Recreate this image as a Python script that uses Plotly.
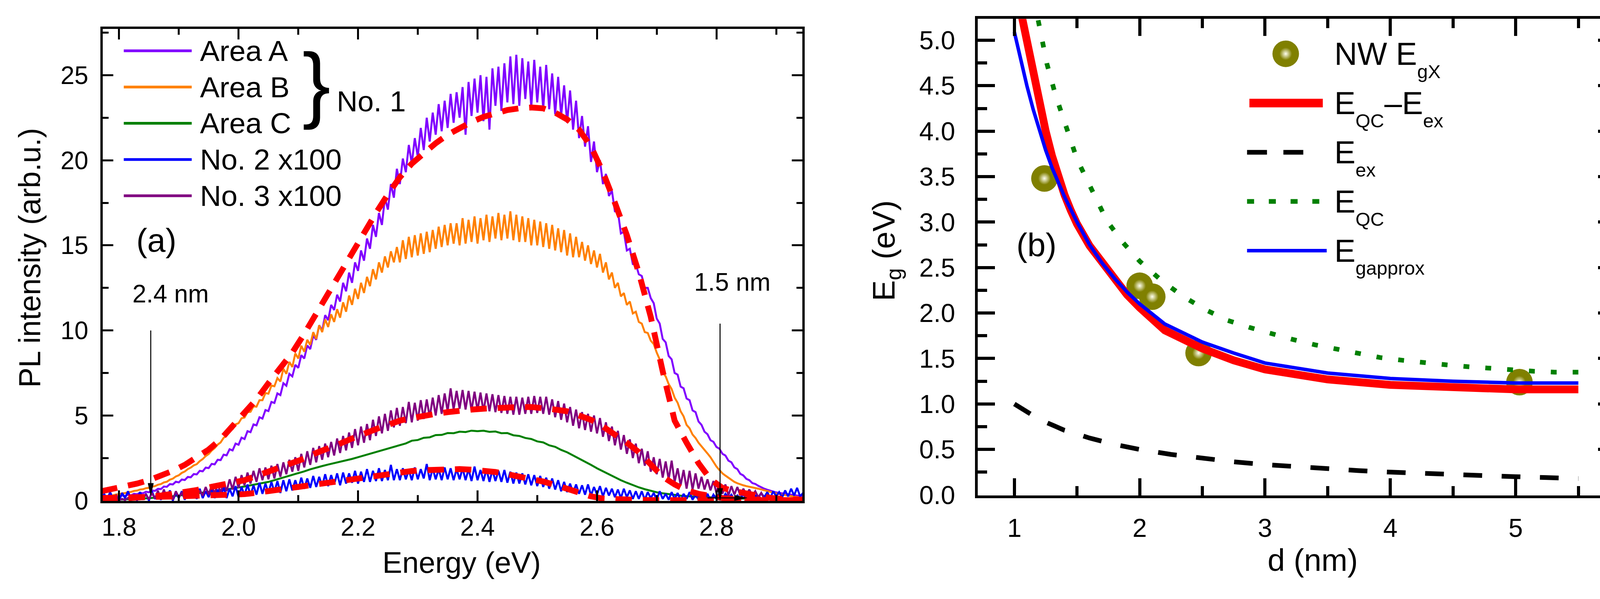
import plotly.graph_objects as go

W, H = 4190, 1533
FONT = "Liberation Sans, Arial, Helvetica, sans-serif"

# ---------------- data: panel (a) ----------------
ENERGY_FINE = [round(1.77 + 0.005 * i, 3) for i in range(237)]   # eV, noisy spectra
ENERGY = [round(1.77 + 0.01 * i, 2) for i in range(119)]          # eV, Area C
FIT_ENERGY = [round(1.77 + 0.02 * i, 2) for i in range(60)]       # eV, fitted curves

AREA_A = [
    0.12, 0.20, 0.17, 0.25, 0.19, 0.27, 0.23, 0.30, 0.27, 0.35, 0.31, 0.40, 0.37, 0.46, 0.43, 0.52, 0.49, 0.60, 0.57, 0.69,
    0.68, 0.83, 0.81, 0.97, 0.95, 1.11, 1.07, 1.24, 1.21, 1.39, 1.37, 1.56, 1.54, 1.75, 1.72, 1.94, 1.91, 2.16, 2.13, 2.40,
    2.38, 2.70, 2.66, 3.02, 2.95, 3.35, 3.28, 3.70, 3.62, 4.08, 4.02, 4.48, 4.42, 4.90, 4.82, 5.32, 5.26, 5.80, 5.74, 6.30,
    6.20, 6.90, 6.75, 7.45, 7.30, 7.98, 7.80, 8.55, 8.35, 9.12, 8.90, 9.70, 9.45, 10.3, 10.0, 10.9, 10.6, 11.5, 11.2, 12.1,
    11.7, 12.8, 12.3, 13.4, 12.8, 14.0, 13.5, 14.7, 14.1, 15.4, 14.8, 16.2, 15.5, 16.9, 16.2, 17.8, 17.1, 18.6, 17.8, 19.5,
    18.6, 20.1, 19.3, 20.9, 19.8, 21.3, 20.2, 21.9, 20.6, 22.5, 21.1, 22.8, 21.5, 23.3, 21.7, 23.5, 21.9, 23.9, 22.2, 24.0,
    22.5, 24.3, 21.5, 24.6, 22.6, 24.8, 22.8, 25.0, 22.3, 24.9, 21.8, 25.4, 23.2, 25.5, 22.9, 25.7, 23.4, 26.1, 23.3, 26.2,
    23.2, 26.0, 23.6, 25.8, 23.1, 25.9, 23.4, 25.5, 23.0, 25.6, 23.0, 25.1, 22.7, 24.9, 22.6, 24.4, 22.2, 24.1, 21.8, 23.5,
    21.3, 22.6, 20.8, 22.0, 19.9, 21.1, 19.3, 20.0, 18.6, 19.2, 17.9, 18.2, 17.0, 17.0, 15.7, 15.8, 14.7, 14.8, 13.9, 13.9,
    13.3, 13.2, 12.5, 12.5, 11.9, 11.6, 10.7, 10.4, 9.5, 9.3, 8.5, 8.3, 7.5, 7.4, 6.7, 6.6, 6.0, 5.9, 5.3, 5.2,
    4.65, 4.45, 4.05, 3.90, 3.55, 3.45, 3.15, 3.05, 2.75, 2.65, 2.35, 2.25, 1.95, 1.85, 1.57, 1.48, 1.28, 1.20, 1.03, 0.98,
    0.87, 0.78, 0.70, 0.64, 0.58, 0.53, 0.48, 0.45, 0.42, 0.39, 0.37, 0.35, 0.32, 0.30, 0.28, 0.27, 0.25]

AREA_B = [
    0.19, 0.24, 0.24, 0.30, 0.31, 0.36, 0.37, 0.43, 0.44, 0.50, 0.51, 0.57, 0.59, 0.65, 0.67, 0.73, 0.75, 0.82, 0.85, 0.93,
    0.97, 1.07, 1.11, 1.23, 1.29, 1.42, 1.49, 1.63, 1.71, 1.85, 1.94, 2.07, 2.14, 2.32, 2.44, 2.62, 2.74, 2.94, 3.09, 3.29,
    3.42, 3.69, 3.81, 4.10, 4.20, 4.48, 4.55, 4.84, 4.88, 5.20, 5.22, 5.54, 5.52, 5.90, 5.90, 6.32, 6.28, 6.76, 6.72, 7.20,
    7.00, 7.75, 7.45, 8.15, 7.85, 8.65, 8.35, 9.10, 8.75, 9.45, 9.15, 9.90, 9.50, 10.3, 9.90, 10.65, 10.2, 10.95, 10.5, 11.25,
    10.75, 11.65, 11.1, 12.05, 11.5, 12.45, 11.85, 12.8, 12.2, 13.15, 12.6, 13.6, 13.0, 14.0, 13.4, 14.35, 13.7, 14.65, 14.0, 14.9,
    14.0, 15.3, 14.2, 15.5, 14.3, 15.6, 14.4, 15.7, 14.5, 15.8, 14.6, 15.9, 14.8, 16.1, 14.9, 16.2, 15.0, 16.3, 15.1, 16.3,
    15.0, 16.6, 15.1, 16.5, 15.2, 16.7, 15.1, 16.6, 15.3, 16.8, 15.2, 16.7, 15.4, 16.9, 15.3, 16.8, 15.4, 17.0, 15.3, 16.8,
    15.2, 16.7, 15.2, 16.6, 15.0, 16.5, 15.0, 16.4, 14.9, 16.3, 14.8, 16.2, 14.7, 16.0, 14.6, 15.9, 14.4, 15.7, 14.3, 15.5,
    14.3, 15.2, 14.1, 15.0, 13.9, 14.7, 13.7, 14.5, 13.4, 14.0, 13.0, 13.4, 12.5, 12.8, 12.0, 12.2, 11.5, 11.7, 11.0, 11.1,
    10.5, 10.4, 9.9, 9.85, 9.4, 9.2, 8.7, 8.3, 7.55, 7.3, 6.85, 6.55, 6.05, 5.75, 5.25, 4.95, 4.45, 4.25, 3.88, 3.68,
    3.40, 3.20, 3.00, 2.77, 2.55, 2.27, 2.00, 1.80, 1.60, 1.47, 1.35, 1.22, 1.10, 1.02, 0.95, 0.90, 0.85, 0.82, 0.78, 0.74,
    0.70, 0.65, 0.60, 0.55, 0.50, 0.46, 0.42, 0.38, 0.35, 0.33, 0.30, 0.26, 0.22, 0.20, 0.18, 0.16, 0.15]

AREA_C = [0.02, 0.03, 0.04, 0.05, 0.06, 0.08, 0.10, 0.12, 0.14, 0.16,
          0.19, 0.22, 0.26, 0.30, 0.33, 0.37, 0.41, 0.45, 0.50, 0.55,
          0.60, 0.65, 0.71, 0.77, 0.83, 0.90, 0.97, 1.04, 1.10, 1.20,
          1.30, 1.40, 1.50, 1.60, 1.72, 1.84, 1.95, 2.03, 2.12, 2.20,
          2.28, 2.36, 2.45, 2.55, 2.65, 2.75, 2.85, 2.95, 3.05, 3.15,
          3.27, 3.36, 3.52, 3.56, 3.69, 3.72, 3.85, 3.86, 3.97, 3.96,
          4.05, 4.03, 4.11, 4.08, 4.11, 4.04, 4.06, 3.96, 3.97, 3.84,
          3.80, 3.68, 3.62, 3.48, 3.42, 3.25, 3.16, 2.98, 2.84, 2.66,
          2.48, 2.30, 2.10, 1.90, 1.72, 1.53, 1.35, 1.20, 1.05, 0.90,
          0.78, 0.67, 0.57, 0.49, 0.43, 0.38, 0.33, 0.29, 0.26, 0.24,
          0.22, 0.20, 0.18, 0.16, 0.15, 0.14, 0.13, 0.12, 0.11, 0.10,
          0.10, 0.09, 0.09, 0.08, 0.08, 0.07, 0.07, 0.06, 0.06]

NO2_X100 = [
    0.00, 0.40, 0.05, 0.50, 0.10, 0.30, 0.00, 0.45, 0.15, 0.55, 0.05, 0.35, 0.00, 0.50, 0.10, 0.40, 0.00, 0.55, 0.10, 0.35,
    0.05, 0.50, 0.10, 0.60, 0.00, 0.45, 0.15, 0.55, 0.05, 0.65, 0.15, 0.50, 0.10, 0.70, 0.15, 0.55, 0.20, 0.75, 0.15, 0.65,
    0.20, 0.80, 0.15, 0.70, 0.25, 0.85, 0.20, 0.80, 0.30, 0.95, 0.30, 0.90, 0.35, 1.05, 0.40, 1.00, 0.45, 1.10, 0.50, 1.15,
    0.45, 1.20, 0.55, 1.25, 0.60, 1.20, 0.65, 1.35, 0.70, 1.30, 0.75, 1.45, 0.80, 1.40, 0.85, 1.55, 0.85, 1.50, 0.95, 1.60,
    0.90, 1.65, 1.00, 1.60, 1.05, 1.75, 1.00, 1.70, 1.10, 1.85, 1.10, 1.75, 1.15, 1.90, 1.15, 1.80, 1.20, 2.10, 1.20, 1.85,
    1.20, 1.90, 1.25, 1.80, 1.20, 1.95, 1.25, 1.85, 1.30, 2.15, 1.20, 1.90, 1.25, 1.85, 1.20, 1.95, 1.25, 1.90, 1.20, 1.85,
    1.25, 1.90, 1.20, 1.85, 1.15, 2.00, 1.20, 1.80, 1.15, 1.85, 1.10, 1.80, 1.15, 1.75, 1.10, 1.80, 1.05, 1.70, 1.00, 1.65,
    1.00, 1.60, 0.95, 1.55, 0.90, 1.50, 0.85, 1.45, 0.80, 1.35, 0.70, 1.30, 0.65, 1.20, 0.55, 1.10, 0.50, 1.00, 0.45, 0.95,
    0.40, 0.90, 0.35, 0.95, 0.30, 0.80, 0.35, 0.85, 0.25, 0.75, 0.30, 0.70, 0.20, 0.65, 0.15, 0.70, 0.20, 0.60, 0.10, 0.55,
    0.10, 0.55, 0.05, 0.50, 0.15, 0.45, 0.05, 0.55, 0.10, 0.40, 0.05, 0.50, 0.10, 0.45, 0.00, 0.40, 0.10, 0.50, 0.05, 0.35,
    0.05, 0.45, 0.10, 0.40, 0.00, 0.35, 0.10, 0.45, 0.05, 0.40, 0.15, 0.35, 0.05, 0.30, 0.10, 0.40, 0.05, 0.35, 0.10, 0.30,
    0.15, 0.45, 0.20, 0.50, 0.15, 0.55, 0.25, 0.50, 0.20, 0.60, 0.25, 0.70, 0.30, 0.75, 0.25, 0.45, 0.30]

NO3_X100 = [
    0.00, 0.02, 0.00, 0.04, 0.01, 0.06, 0.02, 0.10, 0.03, 0.16, 0.05, 0.22, 0.08, 0.30, 0.10, 0.36, 0.08, 0.45, 0.12, 0.58,
    0.10, 0.65, 0.15, 0.50, 0.05, 0.55, 0.20, 0.45, 0.10, 0.60, 0.20, 0.70, 0.25, 0.60, 0.30, 0.80, 0.35, 0.90, 0.40, 1.00,
    0.45, 1.10, 0.55, 1.25, 0.65, 1.40, 0.75, 1.50, 0.90, 1.65, 1.00, 1.75, 1.10, 1.90, 1.20, 1.95, 1.25, 2.05, 1.30, 2.15,
    1.40, 2.25, 1.55, 2.40, 1.70, 2.55, 1.75, 2.75, 1.95, 2.90, 2.10, 3.10, 2.25, 3.20, 2.40, 3.35, 2.55, 3.45, 2.65, 3.65,
    2.80, 3.80, 2.95, 4.00, 3.10, 4.20, 3.25, 4.35, 3.40, 4.50, 3.55, 4.75, 3.80, 4.95, 3.95, 5.10, 4.10, 5.30, 4.30, 5.45,
    4.40, 5.50, 4.55, 5.80, 4.60, 5.75, 4.70, 5.90, 4.80, 5.95, 4.90, 6.05, 5.00, 6.20, 5.10, 6.30, 5.25, 6.60, 5.35, 6.45,
    5.40, 6.50, 5.35, 6.45, 5.30, 6.40, 5.30, 6.35, 5.25, 6.30, 5.25, 6.25, 5.20, 6.20, 5.15, 6.15, 5.10, 6.10, 5.05, 6.10,
    5.05, 6.05, 5.10, 6.10, 5.10, 6.15, 5.15, 6.10, 5.10, 6.10, 5.05, 5.95, 4.90, 5.85, 4.75, 5.70, 4.60, 5.50, 4.40, 5.35,
    4.25, 5.20, 4.15, 5.10, 4.05, 5.00, 3.95, 4.85, 3.75, 4.60, 3.50, 4.35, 3.25, 4.10, 3.00, 3.85, 2.75, 3.60, 2.50, 3.35,
    2.20, 3.05, 2.05, 2.90, 1.70, 2.55, 1.55, 2.45, 1.35, 2.30, 1.25, 2.35, 1.10, 1.90, 0.90, 1.80, 0.70, 1.75, 0.65, 1.60,
    0.70, 1.40, 0.65, 1.25, 0.60, 1.15, 0.45, 1.05, 0.40, 0.95, 0.30, 0.85, 0.35, 0.80, 0.30, 0.70, 0.35, 0.65, 0.30, 0.55,
    0.20, 0.45, 0.10, 0.30, 0.05, 0.20, 0.02, 0.12, 0.02, 0.08, 0.01, 0.05, 0.01, 0.03, 0.01, 0.02, 0.01]

FIT_A = [0.55, 0.68, 0.85, 1.0, 1.2, 1.45, 1.75, 2.1, 2.55, 3.0,
         3.6, 4.35, 5.1, 5.95, 6.9, 7.8, 8.7, 9.8, 11.0, 12.2,
         13.4, 14.6, 15.8, 16.9, 18.0, 19.0, 19.8, 20.45, 21.0, 21.5,
         21.9, 22.25, 22.55, 22.75, 22.95, 23.05, 23.1, 23.05, 22.8, 22.4,
         21.8, 20.8, 19.3, 17.5, 15.6, 13.4, 10.8, 7.6, 4.7, 3.4,
         2.2, 1.25, 0.75, 0.55, 0.4, 0.27, 0.16, 0.1, 0.06, 0.04]

FIT_NO3 = [0.05, 0.08, 0.12, 0.17, 0.22, 0.3, 0.38, 0.48, 0.62, 0.78,
           0.9, 1.05, 1.2, 1.45, 1.7, 1.95, 2.2, 2.47, 2.8, 3.05,
           3.35, 3.65, 3.95, 4.2, 4.45, 4.7, 4.85, 5.0, 5.1, 5.2,
           5.3, 5.35, 5.4, 5.45, 5.5, 5.5, 5.5, 5.45, 5.35, 5.25,
           5.0, 4.75, 4.35, 3.9, 3.4, 2.85, 2.15, 1.4, 0.95, 0.6,
           0.4, 0.25, 0.15, 0.1, 0.06, 0.04, 0.03, 0.02, 0.02, 0.02]

FIT_NO2 = [0.15, 0.18, 0.2, 0.21, 0.22, 0.23, 0.24, 0.25, 0.26, 0.27,
           0.29, 0.33, 0.38, 0.46, 0.56, 0.67, 0.77, 0.86, 0.97, 1.08,
           1.2, 1.3, 1.4, 1.5, 1.6, 1.68, 1.74, 1.79, 1.83, 1.85,
           1.85, 1.82, 1.77, 1.68, 1.55, 1.42, 1.28, 1.12, 0.92, 0.7,
           0.45, 0.25, 0.12, 0.07, 0.05, 0.04, 0.03, 0.03, 0.03, 0.03,
           0.03, 0.03, 0.03, 0.03, 0.03, 0.03, 0.03, 0.03, 0.03, 0.03]

for _s in (AREA_A, AREA_B, NO2_X100, NO3_X100):
    assert len(_s) == len(ENERGY_FINE), len(_s)
assert len(AREA_C) == len(ENERGY)
for _s in (FIT_A, FIT_NO3, FIT_NO2):
    assert len(_s) == len(FIT_ENERGY)

LABELS_A = ["Area A", "Area B", "Area C", "No. 2 x100", "No. 3 x100"]
# size-marker lines: (energy eV, top of line, arrow tip)
MARK_24NM = (1.853, 10.0, 0.3)
MARK_15NM = (2.806, 10.4, 0.0)
MARK_15NM_SIDE = (2.785, 2.851, 0.16)   # small horizontal arrow: from, to, level

# ---------------- data: panel (b) ----------------
NW_D = [1.24, 2.0, 2.1, 2.47, 5.03]
NW_EG = [3.48, 2.30, 2.18, 1.56, 1.24]

QCEX_D = [1.06, 1.1, 1.15, 1.2, 1.25, 1.3, 1.35, 1.4, 1.45, 1.5, 1.6, 1.7, 1.8, 1.9,
          2.0, 2.2, 2.5, 2.75, 3.0, 3.5, 4.0, 4.5, 5.0, 5.5]
QCEX_E = [5.26, 4.98, 4.64, 4.3, 4.0, 3.73, 3.5, 3.3, 3.13, 2.98, 2.74, 2.55, 2.37, 2.2,
          2.06, 1.81, 1.61, 1.48, 1.38, 1.27, 1.21, 1.18, 1.16, 1.16]

EX_D = [1.0, 1.1, 1.2, 1.3, 1.4, 1.5, 1.6, 1.8, 2.0, 2.25, 2.5, 2.75, 3.0, 3.25, 3.5,
        3.75, 4.0, 4.25, 4.5, 4.75, 5.0, 5.25, 5.5]
EX_E = [1.0, 0.91, 0.83, 0.77, 0.71, 0.67, 0.625, 0.555, 0.5, 0.445, 0.4, 0.364, 0.333,
        0.308, 0.286, 0.267, 0.25, 0.235, 0.222, 0.21, 0.2, 0.19, 0.18]

QC_D = [1.19, 1.21, 1.26, 1.33, 1.39, 1.44, 1.5, 1.58, 1.66, 1.74, 1.87, 2.0, 2.18, 2.35,
        2.52, 2.7, 2.88, 3.05, 3.22, 3.4, 3.58, 3.75, 3.92, 4.1, 4.27, 4.45, 4.62, 4.8,
        4.97, 5.14, 5.31, 5.5]
QC_E = [5.22, 5.08, 4.74, 4.39, 4.16, 3.94, 3.69, 3.46, 3.23, 3.01, 2.77, 2.57, 2.35, 2.18,
        2.04, 1.92, 1.84, 1.77, 1.71, 1.65, 1.6, 1.55, 1.51, 1.48, 1.45, 1.43, 1.41, 1.39,
        1.37, 1.36, 1.35, 1.35]

APPROX_D = [1.0, 1.05, 1.1, 1.15, 1.2, 1.25, 1.3, 1.35, 1.4, 1.5, 1.6, 1.7, 1.8, 1.9,
            2.0, 2.2, 2.5, 2.75, 3.0, 3.5, 4.0, 4.5, 5.0, 5.5]
APPROX_E = [5.09, 4.78, 4.5, 4.24, 4.0, 3.79, 3.6, 3.43, 3.28, 3.0, 2.75, 2.55, 2.38, 2.23,
            2.1, 1.88, 1.68, 1.56, 1.45, 1.34, 1.28, 1.25, 1.23, 1.23]

# legend texts of panel (b): (main text, subscript) pieces per row
LABELS_B = [[("NW E", "gX")], [("E", "QC"), ("\u2013E", "ex")], [("E", "ex")],
            [("E", "QC")], [("E", "gapprox")]]

# ---------------- styles / layout geometry (pixels) ----------------
C_A, C_B, C_C, C_2, C_3 = "#8000FF", "#FF8000", "#008000", "#0000FF", "#800080"
C_FIT = "#FF0000"
OLIVE = "#808000"

# panel (a): frame line centres and pixel calibration
LW1 = 6
A_L, A_R, A_T, A_Y0 = 258, 2056, 73, 1312
PX_PER_EV, PX_PER_UNIT_A = 1530.0, 44.6
def ax_a(px): return 1.8 + (px - 303) / PX_PER_EV
def ay_a(py): return (1312 - py) / PX_PER_UNIT_A
# panel (b)
LW2 = 7
B_L, B_R, B_T, B_Y0 = 2499, 4138, 46, 1297
def ax_b(px): return 1.0 + (px - 2596) / 321.0
def ay_b(py): return (1297 - py) / 238.3

fig = go.Figure()

# ---- panel (a) traces ----
for xs, ys, col in zip([ENERGY_FINE, ENERGY_FINE, ENERGY, ENERGY_FINE, ENERGY_FINE],
                       [AREA_A, AREA_B, AREA_C, NO2_X100, NO3_X100],
                       [C_A, C_B, C_C, C_2, C_3]):
    fig.add_trace(go.Scatter(x=xs, y=ys, mode="lines", line=dict(color=col, width=5),
                             xaxis="x", yaxis="y", showlegend=False, hoverinfo="skip"))
for ys in [FIT_A, FIT_NO3, FIT_NO2]:
    fig.add_trace(go.Scatter(x=FIT_ENERGY, y=ys, mode="lines",
                             line=dict(color=C_FIT, width=15, dash="42px,28px"),
                             xaxis="x", yaxis="y", showlegend=False, hoverinfo="skip"))

# ---- panel (b) traces ----
fig.add_trace(go.Scatter(x=NW_D, y=NW_EG, mode="markers",
                         marker=dict(size=68, color=OLIVE, line=dict(width=0)),
                         xaxis="x2", yaxis="y2", showlegend=False, hoverinfo="skip"))
fig.add_trace(go.Scatter(x=NW_D, y=NW_EG, mode="markers",
                         marker=dict(size=32, color=OLIVE, line=dict(width=0),
                                     gradient=dict(type="radial", color="#FFFFF0")),
                         xaxis="x2", yaxis="y2", showlegend=False, hoverinfo="skip"))
fig.add_trace(go.Scatter(x=QCEX_D, y=QCEX_E, mode="lines", line=dict(color=C_FIT, width=20),
                         xaxis="x2", yaxis="y2", showlegend=False, hoverinfo="skip"))
fig.add_trace(go.Scatter(x=EX_D, y=EX_E, mode="lines",
                         line=dict(color="black", width=12, dash="48px,50px"),
                         xaxis="x2", yaxis="y2", showlegend=False, hoverinfo="skip"))
fig.add_trace(go.Scatter(x=QC_D, y=QC_E, mode="lines",
                         line=dict(color=C_C, width=12, dash="15px,41px"),
                         xaxis="x2", yaxis="y2", showlegend=False, hoverinfo="skip"))
fig.add_trace(go.Scatter(x=APPROX_D, y=APPROX_E, mode="lines", line=dict(color=C_2, width=9),
                         xaxis="x2", yaxis="y2", showlegend=False, hoverinfo="skip"))

# ---- legend keys (drawn on a full-figure pixel overlay axis) ----
LEG_A_ROWS = [133, 228, 323, 418, 513]
LEG_A_X = (315, 489)
for yrow, col in zip(LEG_A_ROWS, [C_A, C_B, C_C, C_2, C_3]):
    fig.add_trace(go.Scatter(x=list(LEG_A_X), y=[yrow, yrow], mode="lines",
                             line=dict(color=col, width=7), xaxis="x3", yaxis="y3",
                             showlegend=False, hoverinfo="skip"))
LEG_B_ROWS = [141, 270, 399, 528, 657]
fig.add_trace(go.Scatter(x=[3291], y=[LEG_B_ROWS[0]], mode="markers",
                         marker=dict(size=68, color=OLIVE, line=dict(width=0)),
                         xaxis="x3", yaxis="y3", showlegend=False, hoverinfo="skip"))
fig.add_trace(go.Scatter(x=[3291], y=[LEG_B_ROWS[0]], mode="markers",
                         marker=dict(size=32, color=OLIVE, line=dict(width=0),
                                     gradient=dict(type="radial", color="#FFFFF0")),
                         xaxis="x3", yaxis="y3", showlegend=False, hoverinfo="skip"))
fig.add_trace(go.Scatter(x=[3198, 3386], y=[LEG_B_ROWS[1]] * 2, mode="lines",
                         line=dict(color=C_FIT, width=22), xaxis="x3", yaxis="y3",
                         showlegend=False, hoverinfo="skip"))
fig.add_trace(go.Scatter(x=[3192, 3336], y=[LEG_B_ROWS[2]] * 2, mode="lines",
                         line=dict(color="black", width=12, dash="51px,42px"),
                         xaxis="x3", yaxis="y3", showlegend=False, hoverinfo="skip"))
fig.add_trace(go.Scatter(x=[3192, 3377], y=[LEG_B_ROWS[3]] * 2, mode="lines",
                         line=dict(color=C_C, width=12, dash="18px,37.7px"),
                         xaxis="x3", yaxis="y3", showlegend=False, hoverinfo="skip"))
fig.add_trace(go.Scatter(x=[3192, 3396], y=[LEG_B_ROWS[4]] * 2, mode="lines",
                         line=dict(color=C_2, width=9), xaxis="x3", yaxis="y3",
                         showlegend=False, hoverinfo="skip"))

# ---- annotations ----
ann = []
def txt(x, y, s, size, xanchor="center", yanchor="middle", angle=0):
    ann.append(dict(x=x, y=y, xref="x3", yref="y3", text=s, showarrow=False,
                    xanchor=xanchor, yanchor=yanchor, textangle=angle,
                    font=dict(family=FONT, size=size, color="black")))

for yrow, lab in zip(LEG_A_ROWS, LABELS_A):
    txt(508, yrow, lab, 75, xanchor="left")

# panel (b) legend text: main part 81 px, subscript 49 px dropped below
MAIN_FS, SUB_FS = 81, 49
ADV = {"N": 0.722, "W": 0.944, " ": 0.278, "E": 0.667, "\u2013": 0.556,
       "Q": 0.778, "C": 0.722, "e": 0.556, "x": 0.5, "g": 0.556, "X": 0.667,
       "a": 0.556, "p": 0.556, "r": 0.333, "o": 0.556}
def width(s, fs): return sum(ADV.get(c, 0.556) for c in s) * fs
for yrow, pieces in zip(LEG_B_ROWS, LABELS_B):
    xcur = 3414
    for main, sub in pieces:
        txt(xcur, yrow, main, MAIN_FS, xanchor="left")
        xcur += width(main, MAIN_FS)
        txt(xcur, yrow + 46, sub, SUB_FS, xanchor="left")
        xcur += width(sub, SUB_FS)

txt(808, 217, "}", 216)
txt(949, 266, "No. 1", 74)
txt(399, 630, "(a)", 84)
txt(2653, 642, "(b)", 84)
txt(435, 770, "2.4 nm", 64)
txt(1874, 739, "1.5 nm", 64)
txt(1181, 1474, "Energy (eV)", 76)
txt(74, 675, "PL intensity (arb.u.)", 77, angle=-90)
txt(3360, 1468, "d (nm)", 80)
txt(2268, 657, "E<sub>g</sub> (eV)", 80, angle=-90)

# ---- size-marker lines with arrow heads (shapes in panel (a) data coordinates) ----
HEAD_LEN, HEAD_HALF = 32.0, 7.0     # px
shapes = []
for xm, ytop, ytip in [MARK_24NM, MARK_15NM]:
    ybase = ytip + HEAD_LEN / PX_PER_UNIT_A
    hw = HEAD_HALF / PX_PER_EV
    shapes.append(dict(type="line", xref="x", yref="y", x0=xm, x1=xm, y0=ytop, y1=ybase,
                       line=dict(color="black", width=2.6)))
    shapes.append(dict(type="path", xref="x", yref="y", fillcolor="black",
                       line=dict(color="black", width=1),
                       path=f"M {xm - hw},{ybase} L {xm + hw},{ybase} L {xm},{ytip} Z"))
x_from, x_to, ylev = MARK_15NM_SIDE
xbase = x_to - HEAD_LEN / PX_PER_EV
hh = HEAD_HALF / PX_PER_UNIT_A
shapes.append(dict(type="line", xref="x", yref="y", x0=x_from, x1=xbase, y0=ylev, y1=ylev,
                   line=dict(color="black", width=2.6)))
shapes.append(dict(type="path", xref="x", yref="y", fillcolor="black",
                   line=dict(color="black", width=1),
                   path=f"M {xbase},{ylev - hh} L {xbase},{ylev + hh} L {x_to},{ylev} Z"))

tickfont = dict(family=FONT, size=64, color="black")
tickfont_b = dict(family=FONT, size=66, color="black")

def common(lw, tl, mtl, tw):
    return dict(showline=True, linewidth=lw, linecolor="black", mirror="ticks",
                ticks="inside", ticklen=tl, tickwidth=tw, tickcolor="black",
                showgrid=False, zeroline=False, fixedrange=True,
                minor=dict(ticks="inside", ticklen=mtl, tickwidth=tw, tickcolor="black",
                           showgrid=False))

A_YB = A_Y0 + 1            # plot-area bottom pixel (just below y=0)
B_YB = B_Y0 + 1
fig.update_layout(
    width=W, height=H, margin=dict(l=0, r=0, t=0, b=0),
    paper_bgcolor="white", plot_bgcolor="rgba(0,0,0,0)", showlegend=False,
    font=dict(family=FONT, color="black"),
    xaxis=dict(domain=[(A_L + LW1 / 2) / W, (A_R - LW1 / 2) / W],
               range=[ax_a(A_L + LW1 / 2), ax_a(A_R - LW1 / 2)],
               tick0=1.8, dtick=0.2, tickformat=".1f", tickfont=tickfont,
               ticklabelstandoff=6, anchor="y", **common(LW1, 27, 15, 5)),
    yaxis=dict(domain=[1 - A_YB / H, 1 - (A_T + LW1 / 2) / H],
               range=[ay_a(A_YB), ay_a(A_T + LW1 / 2)],
               tick0=0, dtick=5, tickfont=tickfont, ticklabelstandoff=18, anchor="x",
               **common(LW1, 27, 15, 5)),
    xaxis2=dict(domain=[(B_L + LW2 / 2) / W, (B_R - LW2 / 2) / W],
                range=[ax_b(B_L + LW2 / 2), ax_b(B_R - LW2 / 2)],
                tick0=1, dtick=1, tickfont=tickfont_b, ticklabelstandoff=20, anchor="y2",
                **common(LW2, 44, 24, 8)),
    yaxis2=dict(domain=[1 - B_YB / H, 1 - (B_T + LW2 / 2) / H],
                range=[ay_b(B_YB), ay_b(B_T + LW2 / 2)],
                tick0=0, dtick=0.5, tickformat=".1f", tickfont=tickfont_b,
                ticklabelstandoff=38, anchor="x2", **common(LW2, 44, 24, 8)),
    xaxis3=dict(domain=[0, 1], range=[0, W], visible=False, fixedrange=True, anchor="y3"),
    yaxis3=dict(domain=[0, 1], range=[H, 0], visible=False, fixedrange=True, anchor="x3"),
    annotations=ann,
    shapes=shapes,
)
fig.layout.xaxis.minor.dtick = 0.1
fig.layout.yaxis.minor.dtick = 2.5
fig.layout.xaxis2.minor.dtick = 0.5
fig.layout.yaxis2.minor.dtick = 0.25

fig.write_html("out.html", config={"displayModeBar": False},
               post_script="document.body.style.margin='0';")
